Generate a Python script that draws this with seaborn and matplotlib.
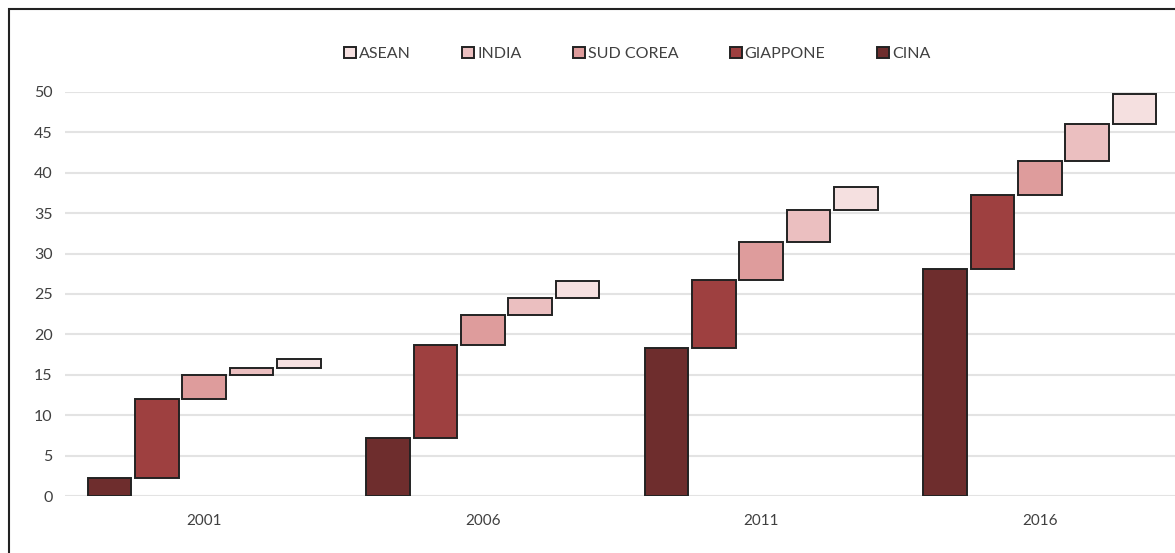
import numpy as np
import pandas as pd
import matplotlib.pyplot as plt
import seaborn as sns
from matplotlib.patches import Rectangle

sns.set_style('white')
plt.rcParams['font.family'] = ['Lato', 'DejaVu Sans']

years = ['2001', '2006', '2011', '2016']
countries = ['CINA', 'GIAPPONE', 'SUD COREA', 'INDIA', 'ASEAN']

# incremento di ogni paese sopra il precedente
cina = [2.25, 7.2, 18.3, 28.1]
giappone = [9.75, 11.45, 8.4, 9.1]
sud_corea = [2.95, 3.8, 4.75, 4.3]
india = [0.85, 2.05, 3.95, 4.5]
asean = [1.15, 2.1, 2.9, 3.8]

colors = ['#6e2d2d', '#9e4040', '#de9c9c', '#ebbfc0', '#f5e0e0']

values = {'CINA': cina, 'GIAPPONE': giappone, 'SUD COREA': sud_corea,
          'INDIA': india, 'ASEAN': asean}

rows = []
for c in countries:
    for y, v in zip(years, values[c]):
        rows.append({'anno': y, 'paese': c, 'valore': v})
df = pd.DataFrame(rows)

# basi cumulative (cascata)
stack = np.array([values[c] for c in countries])
bottoms = np.vstack([np.zeros(len(years)), np.cumsum(stack, axis=0)[:-1]])

W, H = 1175, 553
fig = plt.figure(figsize=(W / 100, H / 100), dpi=100)
ax = fig.add_axes([65 / W, (H - 496) / H, (1179 - 65) / W, (496 - 92) / H])

sns.barplot(data=df, x='anno', y='valore', hue='paese', order=years,
            hue_order=countries, palette=colors, saturation=1,
            width=0.85, gap=0.08, errorbar=None,
            edgecolor='#222222', linewidth=1.4, ax=ax)

for cont, base in zip(ax.containers, bottoms):
    for patch, b in zip(cont.patches, base):
        patch.set_y(b)

ax.set_ylim(0, 50)
ax.set_xlim(-0.5, 3.5)
ax.set_yticks(np.arange(0, 51, 5))
ax.set_xlabel('')
ax.set_ylabel('')
ax.yaxis.grid(True, color='#e3e3e3', linewidth=1.5)
ax.set_axisbelow(True)
sns.despine(ax=ax, left=True, bottom=True)
ax.tick_params(axis='y', length=0, pad=9, labelsize=11.5, labelcolor='#404040')
ax.tick_params(axis='x', length=0, pad=13, labelsize=11, labelcolor='#404040')

old = ax.get_legend()
handles = list(old.legend_handles)
labels = [t.get_text() for t in old.get_texts()]
old.remove()
fig.legend(handles[::-1], labels[::-1], loc='center',
           bbox_to_anchor=(637 / W, 1 - 54 / H), ncol=5, frameon=False,
           fontsize=11.5, labelcolor='#404040', handlelength=0.75,
           handleheight=0.75, handletextpad=0.2, columnspacing=3.2)

fig.patches.append(Rectangle((9 / W, -0.1), 1.2, 1 - 9 / H + 0.1,
                             transform=fig.transFigure, figure=fig,
                             fill=False, edgecolor='#222222', linewidth=1.5))

fig.savefig('out.png', dpi=100)
